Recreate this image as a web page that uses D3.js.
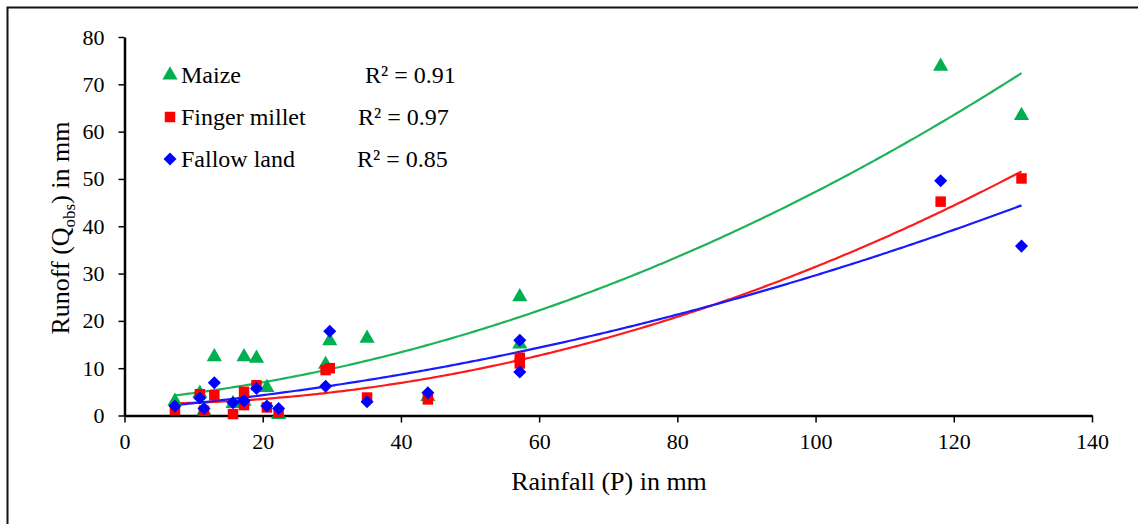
<!DOCTYPE html>
<html>
<head>
<meta charset="utf-8">
<script src="https://cdn.jsdelivr.net/npm/d3@7"></script>
<style>
  @font-face { font-family: "ChartSerif"; src: local("Liberation Serif"), local("LiberationSerif"), local("LiberationSerif-Regular"); }
  body { margin: 0; background: #fff; }
  svg text { font-family: "Liberation Serif" !important; }
</style>
</head>
<body>
<div id="chart"></div>
<script>
// rainfall events (mm) shared by the three plots
let rainfall = [7.3, 10.9, 11.5, 13.0, 15.7, 17.3, 17.3, 19.1, 20.6, 22.3, 29.1, 29.7, 35.1, 43.9, 57.2, 57.2, 118.1, 129.8];
let maize    = [3.0, 4.7, 1.0, 12.4, 2.5, 12.4, 3.0, 12.1, 5.9, 0.2, 10.8, 15.8, 16.3, 4.0, 25.1, 15.1, 73.8, 63.4];
let millet   = [1.2, 4.5, 1.0, 4.3, 0.3, 5.0, 2.2, 6.4, 1.7, 0.6, 9.6, 10.0, 3.8, 3.4, 12.2, 11.0, 45.2, 50.1];
let fallow   = [2.0, 3.7, 1.5, 6.9, 2.7, 3.1, 3.1, 5.7, 2.0, 1.5, 6.2, 17.8, 2.9, 4.8, 15.9, 9.2, 49.6, 35.8];
let seriesNames = ["Maize", "Finger millet", "Fallow land"];
let r2Labels = ["R² = 0.91", "R² = 0.97", "R² = 0.85"];
let xTicks = [0, 20, 40, 60, 80, 100, 120, 140];
let yTicks = [0, 10, 20, 30, 40, 50, 60, 70, 80];

let colors = ["#00b050", "#ff0000", "#0000ff"];
let lineColors = ["#1db35a", "#ff1a1a", "#1a1aff"];
let shapes = [d3.symbolTriangle, d3.symbolSquare, d3.symbolSquare];
let sizes = [100, 110, 85];
let rot = [0, 0, 45];

let margin = { top: 37, left: 124.5, right: 46, bottom: 108.5 };
let W = 1138, H = 524;
let w = W - margin.left - margin.right;
let h = H - margin.top - margin.bottom;

let svg = d3.select("body").append("svg")
    .attr("width", W)
    .attr("height", H)
    .attr("font-family", "Liberation Serif");

// outer frame
svg.append("path")
    .attr("d", `M7.5,${H} V7.5 H${W}`)
    .attr("fill", "none")
    .attr("stroke", "#111")
    .attr("stroke-width", 2);

let g = svg.append("g")
    .attr("transform", `translate(${margin.left}, ${margin.top})`);

let x = d3.scaleLinear().domain([0, 140]).range([0, w]);
let y = d3.scaleLinear().domain([0, 80]).range([h, 0]);

// least squares 2nd order polynomial (like the excel trendline)
function polyFit(xs, ys) {
    let s = [0, 0, 0, 0, 0], t = [0, 0, 0];
    xs.forEach((xv, i) => {
        for (let k = 0; k < 5; k++) s[k] += Math.pow(xv, k);
        for (let k = 0; k < 3; k++) t[k] += ys[i] * Math.pow(xv, k);
    });
    let A = [[s[0], s[1], s[2], t[0]], [s[1], s[2], s[3], t[1]], [s[2], s[3], s[4], t[2]]];
    for (let i = 0; i < 3; i++) {
        for (let j = i + 1; j < 3; j++) {
            let f = A[j][i] / A[i][i];
            for (let k = i; k < 4; k++) A[j][k] -= f * A[i][k];
        }
    }
    let c = [0, 0, 0];
    for (let i = 2; i >= 0; i--) {
        let v = A[i][3];
        for (let k = i + 1; k < 3; k++) v -= A[i][k] * c[k];
        c[i] = v / A[i][i];
    }
    return c;
}

// axes
let xAxis = d3.axisBottom(x).tickValues(xTicks).tickSize(7).tickSizeOuter(0);
let yAxis = d3.axisLeft(y).tickValues(yTicks).tickSize(6).tickSizeOuter(0);

let gx = g.append("g")
    .attr("transform", `translate(0, ${h})`)
    .call(xAxis)
    .attr("font-family", "Liberation Serif")
    .attr("font-size", 22);
gx.select(".domain").attr("stroke-width", 2.5);
gx.selectAll(".tick line").attr("stroke-width", 1.5);
gx.selectAll(".tick text")
    .attr("y", 14)
    .attr("dy", "0.9em")
    .attr("fill", "#000");

let gy = g.append("g")
    .call(yAxis)
    .attr("font-family", "Liberation Serif")
    .attr("font-size", 22);
gy.select(".domain").attr("stroke-width", 2.5);
gy.selectAll(".tick line").attr("stroke-width", 1.5);
gy.selectAll(".tick text")
    .attr("x", -20)
    .attr("fill", "#000");

let allSeries = [maize, millet, fallow];

// trendlines
let xMin = d3.min(rainfall), xMax = d3.max(rainfall);
let xs = d3.range(xMin, xMax, 0.5).concat([xMax]);
allSeries.forEach(function(vals, i) {
    let c = polyFit(rainfall, vals);
    g.append("path")
        .datum(xs)
        .attr("fill", "none")
        .attr("stroke", lineColors[i])
        .attr("stroke-width", 2.2)
        .attr("d", d3.line().x(d => x(d)).y(d => y(c[0] + c[1] * d + c[2] * d * d)));
});

// points, maize first so it sits underneath
allSeries.forEach(function(vals, i) {
    g.append("g").selectAll("path")
        .data(vals)
        .enter()
        .append("path")
        .attr("d", d3.symbol().type(shapes[i]).size(sizes[i]))
        .attr("transform", (d, j) => `translate(${x(rainfall[j])}, ${y(d)}) rotate(${rot[i]})`)
        .attr("fill", colors[i]);
});

// legend
let legY = [75, 117, 159];
let r2X = [365, 358, 357];
seriesNames.forEach(function(name, i) {
    svg.append("path")
        .attr("d", d3.symbol().type(shapes[i]).size(sizes[i]))
        .attr("transform", `translate(170, ${legY[i]}) rotate(${rot[i]})`)
        .attr("fill", colors[i]);
    svg.append("text")
        .attr("x", 181)
        .attr("y", legY[i])
        .attr("dy", "0.35em")
        .attr("font-size", 24)
        .text(name);
    svg.append("text")
        .attr("x", r2X[i])
        .attr("y", legY[i])
        .attr("dy", "0.35em")
        .attr("font-size", 24)
        .text(r2Labels[i]);
});

// axis titles
svg.append("text")
    .attr("x", 609)
    .attr("y", 490)
    .attr("text-anchor", "middle")
    .attr("font-size", 26)
    .text("Rainfall (P) in mm");

let yt = svg.append("text")
    .attr("transform", "translate(69, 228) rotate(-90)")
    .attr("text-anchor", "middle")
    .attr("font-size", 26);
yt.append("tspan").text("Runoff (Q");
yt.append("tspan").attr("font-size", 17).attr("dy", 6).text("obs");
yt.append("tspan").attr("dy", -6).text(") in mm");
</script>
</body>
</html>
